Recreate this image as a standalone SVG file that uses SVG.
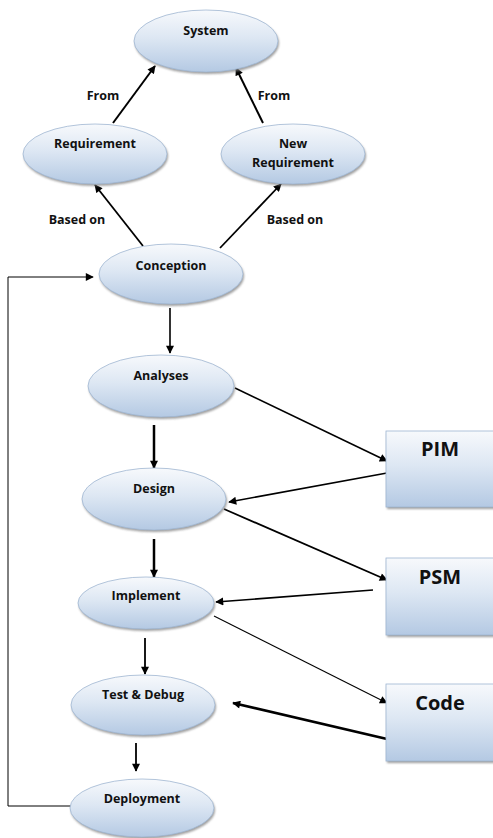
<svg xmlns="http://www.w3.org/2000/svg" width="493" height="838" viewBox="0 0 493 838">
  <style>
    .node { fill: url(#blueFill); stroke: #9fb6d2; stroke-width: 0.8; }
    .shadow { fill: #7f7f7f; opacity: 0.75; filter: url(#soft); }
    .lbl { font-family: "Open Sans", "Liberation Sans", sans-serif; font-weight: bold; font-size: 12.5px; fill: #111; text-anchor: middle; }
    .big { font-family: "Open Sans", "Liberation Sans", sans-serif; font-weight: bold; font-size: 20px; fill: #111; text-anchor: middle; }
    .edge { fill: none; stroke: #000; }
  </style>
  <defs>
    <linearGradient id="blueFill" x1="0" y1="0" x2="0" y2="1">
      <stop offset="0" stop-color="#f7f9fc"/>
      <stop offset="0.45" stop-color="#dde7f3"/>
      <stop offset="1" stop-color="#b4c9e3"/>
    </linearGradient>
    <filter id="soft" x="-10%" y="-10%" width="120%" height="130%">
      <feGaussianBlur stdDeviation="0.8"/>
    </filter>
    <marker id="head" viewBox="0 0 10 10" refX="9" refY="5" markerWidth="9" markerHeight="8" markerUnits="userSpaceOnUse" orient="auto">
      <path d="M0,0 L10,5 L0,10 z" fill="#000"/>
    </marker>
  </defs>
  <rect width="493" height="838" fill="#fff"/>

  <!-- connectors -->
  <g id="connectors">
    <line class="edge" x1="113" y1="123" x2="155" y2="66" stroke-width="2" marker-end="url(#head)"/>
    <line class="edge" x1="263" y1="123" x2="236" y2="68" stroke-width="2" marker-end="url(#head)"/>
    <line class="edge" x1="143" y1="246" x2="95" y2="185" stroke-width="1.8" marker-end="url(#head)"/>
    <line class="edge" x1="220" y1="248" x2="281" y2="184" stroke-width="1.8" marker-end="url(#head)"/>
    <polyline class="edge" points="71,806 8,806 8,277 93,277" stroke-width="1" marker-end="url(#head)"/>
    <line class="edge" x1="170" y1="308" x2="170" y2="353" stroke-width="1.6" marker-end="url(#head)"/>
    <line class="edge" x1="235" y1="388" x2="387" y2="461" stroke-width="1.6" marker-end="url(#head)"/>
    <line class="edge" x1="154" y1="425" x2="154" y2="468" stroke-width="2.5" marker-end="url(#head)"/>
    <line class="edge" x1="387" y1="473" x2="229" y2="502" stroke-width="1.6" marker-end="url(#head)"/>
    <line class="edge" x1="224" y1="509" x2="387" y2="580" stroke-width="1.8" marker-end="url(#head)"/>
    <line class="edge" x1="154" y1="539" x2="154" y2="577" stroke-width="2.5" marker-end="url(#head)"/>
    <line class="edge" x1="373" y1="590" x2="216" y2="602" stroke-width="1.6" marker-end="url(#head)"/>
    <line class="edge" x1="214" y1="616" x2="387" y2="703" stroke-width="1.1" marker-end="url(#head)"/>
    <line class="edge" x1="145" y1="638" x2="145" y2="674" stroke-width="1.8" marker-end="url(#head)"/>
    <line class="edge" x1="387" y1="739" x2="233" y2="703" stroke-width="2.8" marker-end="url(#head)"/>
    <line class="edge" x1="136" y1="743" x2="136" y2="771" stroke-width="1.8" marker-end="url(#head)"/>
    <text class="lbl" x="103" y="100">From</text>
    <text class="lbl" x="274" y="100">From</text>
    <text class="lbl" x="77" y="224">Based on</text>
    <text class="lbl" x="295" y="224">Based on</text>
  </g>

  <g id="system">
    <ellipse class="shadow" cx="207" cy="43" rx="72" ry="31"/>
    <ellipse class="node" cx="206" cy="41" rx="72" ry="31"/>
    <text class="lbl" x="206" y="35">System</text>
  </g>
  <g id="requirement">
    <ellipse class="shadow" cx="96" cy="156" rx="72" ry="30"/>
    <ellipse class="node" cx="95" cy="154" rx="72" ry="30"/>
    <text class="lbl" x="95" y="148">Requirement</text>
  </g>
  <g id="new-requirement">
    <ellipse class="shadow" cx="294" cy="156" rx="72" ry="30"/>
    <ellipse class="node" cx="293" cy="154" rx="72" ry="30"/>
    <text class="lbl" x="293" y="148">New</text>
    <text class="lbl" x="293" y="167">Requirement</text>
  </g>
  <g id="conception">
    <ellipse class="shadow" cx="172" cy="276" rx="72" ry="30"/>
    <ellipse class="node" cx="171" cy="274" rx="72" ry="30"/>
    <text class="lbl" x="171" y="270">Conception</text>
  </g>
  <g id="analyses">
    <ellipse class="shadow" cx="162" cy="388" rx="73" ry="31"/>
    <ellipse class="node" cx="161" cy="386" rx="73" ry="31"/>
    <text class="lbl" x="161" y="380">Analyses</text>
  </g>
  <g id="design">
    <ellipse class="shadow" cx="155" cy="501" rx="72" ry="31"/>
    <ellipse class="node" cx="154" cy="499" rx="72" ry="31"/>
    <text class="lbl" x="154" y="493">Design</text>
  </g>
  <g id="implement">
    <ellipse class="shadow" cx="147" cy="605" rx="68" ry="26"/>
    <ellipse class="node" cx="146" cy="603" rx="68" ry="26"/>
    <text class="lbl" x="146" y="600">Implement</text>
  </g>
  <g id="test-debug">
    <ellipse class="shadow" cx="144" cy="707" rx="72" ry="30"/>
    <ellipse class="node" cx="143" cy="705" rx="72" ry="30"/>
    <text class="lbl" x="143" y="699">Test &amp; Debug</text>
  </g>
  <g id="deployment">
    <ellipse class="shadow" cx="143" cy="810" rx="72" ry="29"/>
    <ellipse class="node" cx="142" cy="808" rx="72" ry="29"/>
    <text class="lbl" x="142" y="803">Deployment</text>
  </g>

  <g id="pim">
    <rect class="shadow" x="387" y="433" width="110" height="76"/>
    <rect class="node" x="386" y="431" width="110" height="76"/>
    <text class="big" x="440" y="456">PIM</text>
  </g>
  <g id="psm">
    <rect class="shadow" x="387" y="560" width="110" height="77"/>
    <rect class="node" x="386" y="558" width="110" height="77"/>
    <text class="big" x="440" y="584">PSM</text>
  </g>
  <g id="code">
    <rect class="shadow" x="387" y="686" width="110" height="77"/>
    <rect class="node" x="386" y="684" width="110" height="77"/>
    <text class="big" x="440" y="710">Code</text>
  </g>
</svg>
